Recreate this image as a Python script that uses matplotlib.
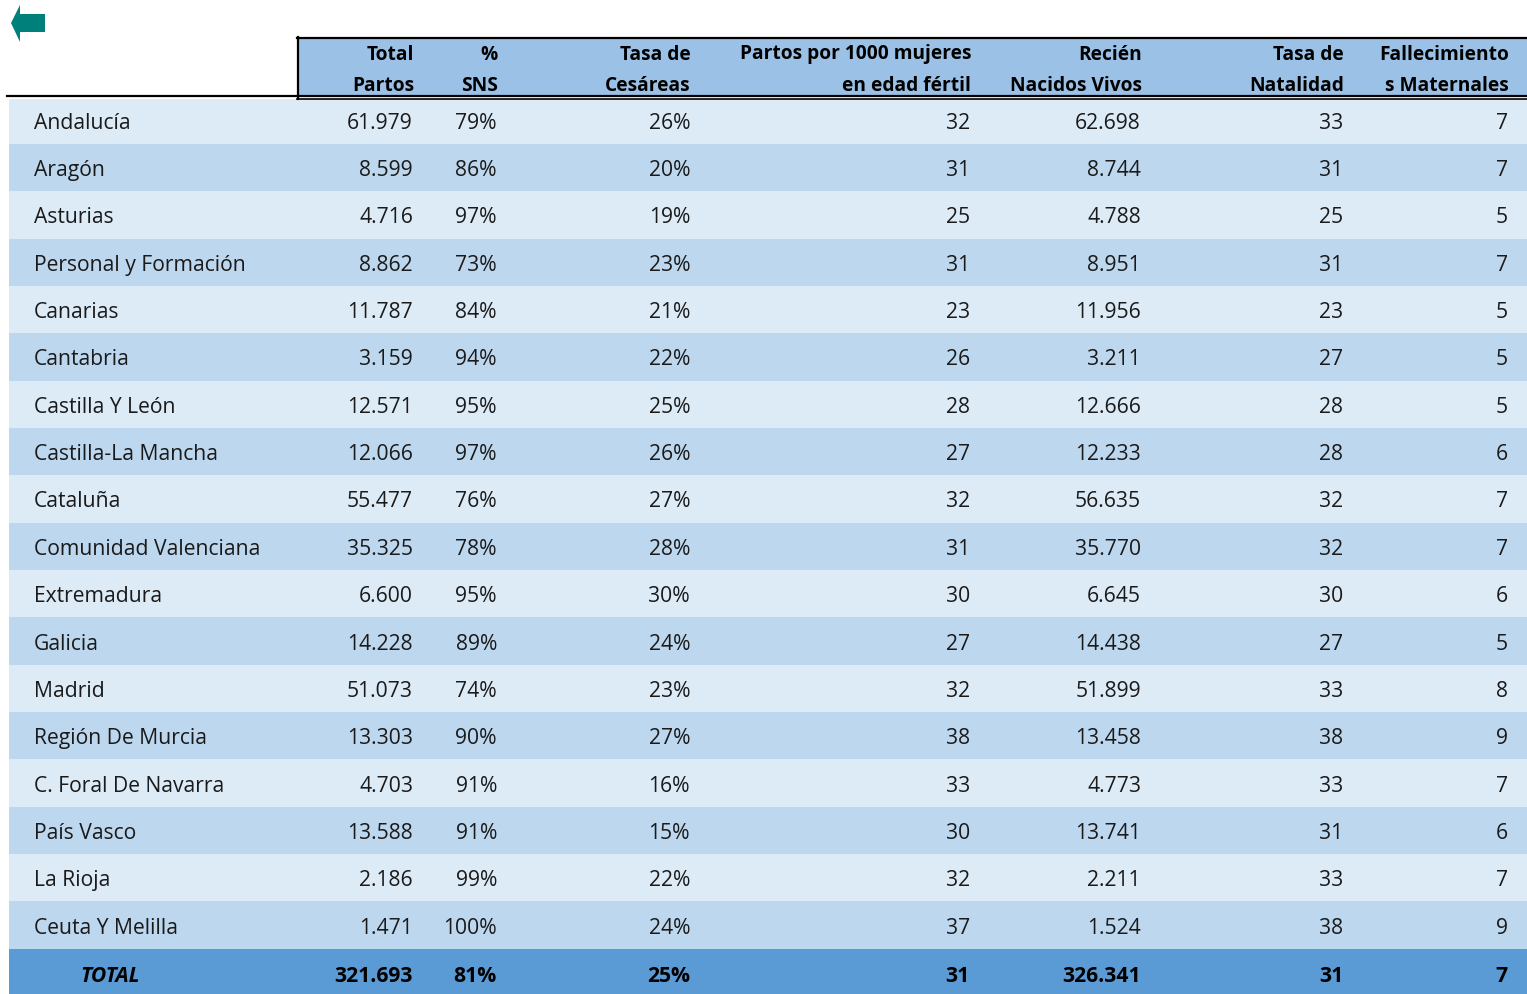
import matplotlib
matplotlib.use("Agg")
import matplotlib.pyplot as plt
from matplotlib.patches import Rectangle, Polygon

# table contents
regions = ["Andalucía", "Aragón", "Asturias", "Personal y Formación", "Canarias",
           "Cantabria", "Castilla Y León", "Castilla-La Mancha", "Cataluña",
           "Comunidad Valenciana", "Extremadura", "Galicia", "Madrid",
           "Región De Murcia", "C. Foral De Navarra", "País Vasco", "La Rioja",
           "Ceuta Y Melilla"]
total_partos = ["61.979", "8.599", "4.716", "8.862", "11.787", "3.159", "12.571",
                "12.066", "55.477", "35.325", "6.600", "14.228", "51.073", "13.303",
                "4.703", "13.588", "2.186", "1.471"]
pct_sns = [79, 86, 97, 73, 84, 94, 95, 97, 76, 78, 95, 89, 74, 90, 91, 91, 99, 100]
tasa_cesareas = [26, 20, 19, 23, 21, 22, 25, 26, 27, 28, 30, 24, 23, 27, 16, 15, 22, 24]
partos_1000 = [32, 31, 25, 31, 23, 26, 28, 27, 32, 31, 30, 27, 32, 38, 33, 30, 32, 37]
nacidos_vivos = ["62.698", "8.744", "4.788", "8.951", "11.956", "3.211", "12.666",
                 "12.233", "56.635", "35.770", "6.645", "14.438", "51.899", "13.458",
                 "4.773", "13.741", "2.211", "1.524"]
tasa_natalidad = [33, 31, 25, 31, 23, 27, 28, 28, 32, 32, 30, 27, 33, 38, 33, 31, 33, 38]
fallecimientos = [7, 7, 5, 7, 5, 5, 5, 6, 7, 7, 6, 5, 8, 9, 7, 6, 7, 9]
total_row = ["321.693", "81%", "25%", "31", "326.341", "31", "7"]

headers = [("Total", "Partos"), ("%", "SNS"), ("Tasa de", "Cesáreas"),
           ("Partos por 1000 mujeres", "en edad fértil"), ("Recién", "Nacidos Vivos"),
           ("Tasa de", "Natalidad"), ("Fallecimiento", "s Maternales")]
col_right = [414, 498, 691, 971, 1142, 1344, 1509]

plt.rcParams['font.family'] = ['Open Sans', 'DejaVu Sans']
W, H = 1527, 995
fig = plt.figure(figsize=(W / 100, H / 100), dpi=100)
ax = fig.add_axes([0, 0, 1, 1])
ax.set_xlim(0, W)
ax.set_ylim(H, 0)
ax.axis('off')

light, dark, tot_col, head_col = "#DDEBF7", "#BDD7EE", "#5B9BD5", "#9BC2E6"
fs = 15.2
dy = 2  # text sits a bit low in its row

# header
ax.add_patch(Rectangle((297, 38), W - 297, 61, color=head_col, lw=0))
for (l1, l2), xr in zip(headers, col_right):
    ax.text(xr, 54.5, l1, ha="right", va="center", fontsize=13.8, fontweight="bold")
    ax.text(xr, 86, l2, ha="right", va="center", fontsize=13.8, fontweight="bold")

# body rows
row_h = 47.35
y0 = 97.5
for i, reg in enumerate(regions):
    top = y0 + i * row_h
    ax.add_patch(Rectangle((9, top), W - 9, row_h, color=light if i % 2 == 0 else dark, lw=0))
    yc = top + row_h / 2 + dy
    vals = [total_partos[i], f"{pct_sns[i]}%", f"{tasa_cesareas[i]}%", str(partos_1000[i]),
            nacidos_vivos[i], str(tasa_natalidad[i]), str(fallecimientos[i])]
    ax.text(34, yc, reg, ha="left", va="center", fontsize=fs, color="#1a1a1a")
    for v, xr in zip(vals, col_right):
        ax.text(xr - 1, yc, v, ha="right", va="center", fontsize=fs, color="#1a1a1a")

# total row
top = y0 + len(regions) * row_h
ax.add_patch(Rectangle((9, top), W - 9, H - top, color=tot_col, lw=0))
yc = top + (H - top) / 2 + 1 + dy + 1
ax.text(80, yc, "TOTAL", ha="left", va="center", fontsize=fs, fontweight="bold",
        fontstyle="italic")
for v, xr in zip(total_row, col_right):
    ax.text(xr - 1, yc, v, ha="right", va="center", fontsize=fs, fontweight="bold")

# header border lines (on top of row fills)
ax.add_patch(Rectangle((0, 96), W, 4, color="white", lw=0, zorder=3))
ax.plot([297, W], [38.5, 38.5], color="black", lw=1.6, zorder=4)
ax.plot([297.5, 297.5], [38, 99.5], color="black", lw=1.6, zorder=4)
ax.plot([7, W], [97, 97], color="black", lw=1.6, zorder=4)
ax.plot([297, W], [99.8, 99.8], color="black", lw=1.2, zorder=4)

# back arrow icon
ax.add_patch(Polygon([(11, 24), (20, 6), (20, 15), (45, 15), (45, 33), (20, 33), (20, 43)],
                     closed=True, color="#00807A", lw=0))

fig.savefig("out.png", dpi=100)
